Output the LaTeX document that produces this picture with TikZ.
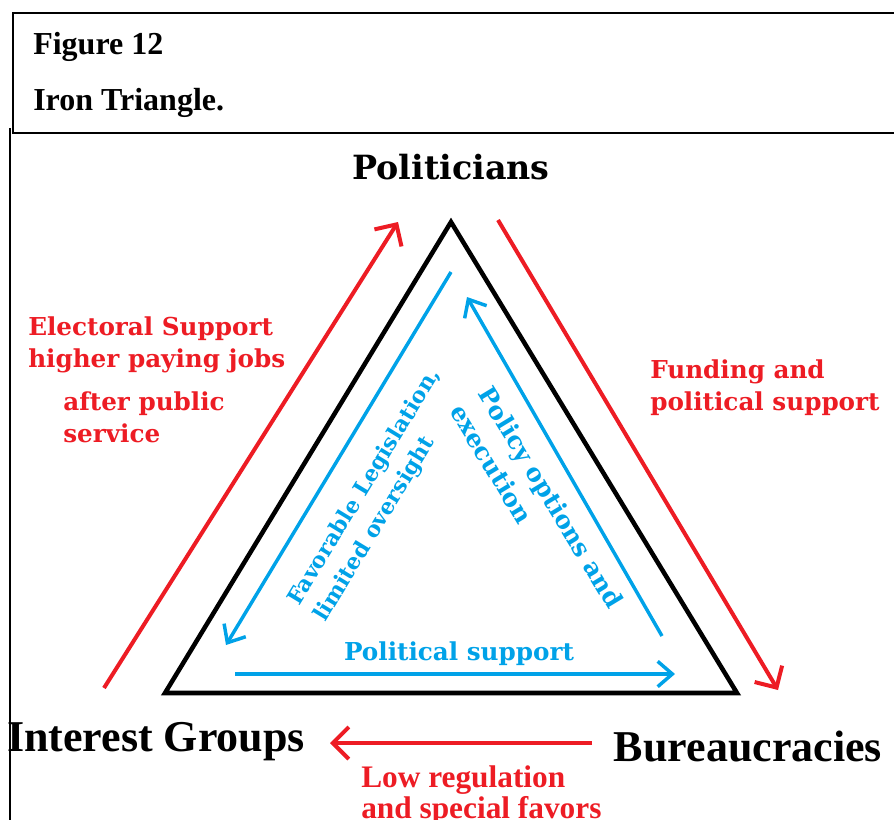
\documentclass[tikz,border=0pt]{standalone}
\usepackage{fontspec}
\setmainfont{Liberation Serif}
\newfontfamily\dejavu{DejaVu Serif}
\usetikzlibrary{arrows.meta}
\definecolor{rougevif}{RGB}{237, 28, 36}
\definecolor{bleuclair}{RGB}{0, 162, 232}

\tikzset{
  fleche rouge/.style={draw=rougevif, line width=3pt, -{Straight Barb[length=12pt, width=24pt]}},
  fleche bleue/.style={draw=bleuclair, line width=2.6pt, -{Straight Barb[length=11pt, width=19pt]}},
  acteur/.style={font=\bfseries\fontsize{33}{38}\selectfont},
  titre/.style={anchor=base west, inner sep=0pt, font=\bfseries\fontsize{24}{28}\selectfont},
  texte rouge/.style={text=rougevif, align=left, inner sep=0pt, font=\dejavu\bfseries\fontsize{18.5}{24}\selectfont},
  texte bleu/.style={text=bleuclair, align=left, inner sep=0pt, font=\dejavu\bfseries\fontsize{18.5}{25}\selectfont},
}

\begin{document}
\begin{tikzpicture}[x=0.75pt, y=0.75pt]
    \useasboundingbox (0,0) rectangle (894,-819);
    \clip (0,0) rectangle (894,-819);
    % cadre du titre
    \draw[line width=1.4pt] (900,-13) -- (13,-13) -- (13,-133) -- (900,-133);
    \draw[line width=1.2pt] (10,-128) -- (10,-830);
    \node[titre] (fig) at (33,-54) {Figure 12};
    \node[titre] (nom) at (33,-110) {Iron Triangle.};
    % triangle
    \coordinate (sommet) at (451,-222);
    \coordinate (gauche) at (165,-693);
    \coordinate (droite) at (737,-693);
    \draw[line width=3.4pt] (sommet) -- (gauche) -- (droite) -- cycle;
    % acteurs
    \node[font=\dejavu\bfseries\fontsize{25}{30}\selectfont] (politiciens) at (451,-167) {Politicians};
    \node[acteur] (groupes) at (156,-742) {Interest Groups};
    \node[acteur] (bureaux) at (748,-746) {Bureaucracies};
    % fleches rouges (exterieur)
    \coordinate (r1a) at (104,-688);
    \coordinate (r1b) at (398,-222);
    \coordinate (r2a) at (498,-220);
    \coordinate (r2b) at (778,-690);
    \coordinate (r3a) at (592,-743);
    \coordinate (r3b) at (330,-743);
    \draw[fleche rouge] (r1a) -- (r1b);
    \draw[fleche rouge] (r2a) -- (r2b);
    \draw[fleche rouge] (r3a) -- (r3b);
    % fleches bleues (interieur)
    \coordinate (b1a) at (451,-272);
    \coordinate (b1b) at (226,-645);
    \coordinate (b2a) at (662,-636);
    \coordinate (b2b) at (467,-297);
    \coordinate (b3a) at (235,-674);
    \coordinate (b3b) at (675,-674);
    \draw[fleche bleue] (b1a) -- (b1b);
    \draw[fleche bleue] (b2a) -- (b2b);
    \draw[fleche bleue] (b3a) -- (b3b);
    % etiquettes rouges
    \node[texte rouge, anchor=west] (electoral) at (28,-345) {Electoral Support\\higher paying jobs};
    \node[texte rouge, anchor=west] (apres) at (63,-417) {after public\\service};
    \node[texte rouge, anchor=west] (financement) at (650,-388) {Funding and\\political support};
    \node[text=rougevif, align=left, inner sep=0pt, anchor=base west,
          font=\bfseries\fontsize{23.5}{23}\selectfont] (faveurs) at (361,-818) {Low regulation\\and special favors};
    % etiquettes bleues
    \node[texte bleu] (soutien) at (459,-654) {Political support};
    \node[texte bleu, font=\dejavu\bfseries\fontsize{16.5}{23}\selectfont, rotate=58.7] (legislation) at (378,-495) {Favorable Legislation,\\limited oversight};
    \node[texte bleu, rotate=-58.7] (politique) at (537,-506) {Policy options and\\execution};
\end{tikzpicture}
\end{document}
